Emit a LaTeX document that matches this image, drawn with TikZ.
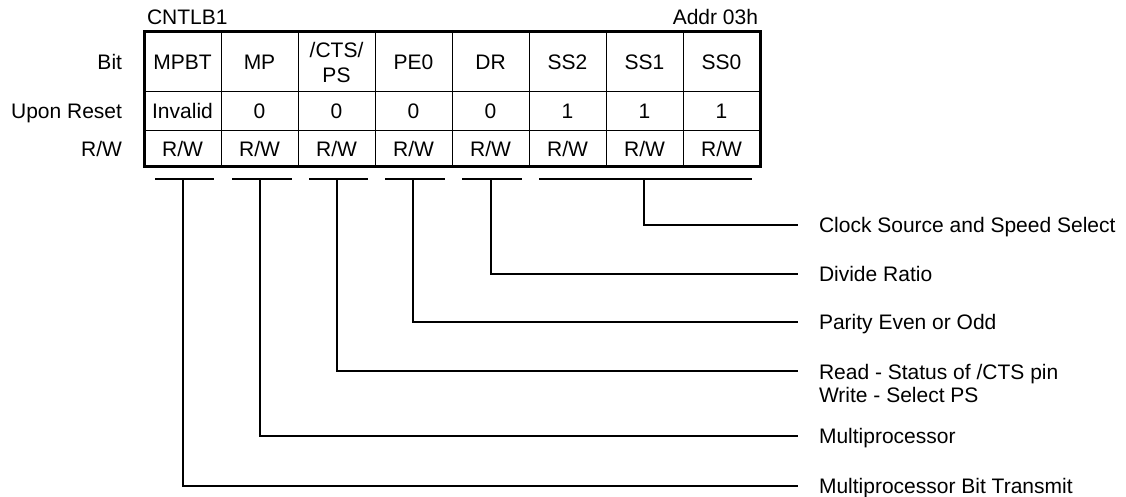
\documentclass[tikz,border=0pt]{standalone}
\usepackage{fontspec}
\setmainfont{Liberation Sans}
\begin{document}
\begin{tikzpicture}[x=1pt,y=-1pt,
  every node/.style={font=\fontsize{21}{25}\selectfont, inner sep=0pt, outer sep=0pt},
  cell/.style={draw, line width=1pt, minimum width=77pt, text height=15pt, text depth=0pt},
  bitcell/.style={cell, minimum height=60pt},
  rstcell/.style={cell, minimum height=39pt},
  rwcell/.style={cell, minimum height=36pt},
  rowlab/.style={anchor=east, text height=15pt, text depth=0pt},
  desc/.style={anchor=west, text height=15pt, text depth=0pt},
  wire/.style={line width=1.3pt},
  frame/.style={line width=3pt}]
\useasboundingbox (0,0) rectangle (1126,497);

% titles
\node[anchor=west, text height=15pt, text depth=0pt] (title) at (147,17) {CNTLB1};
\node[anchor=east, text height=15pt, text depth=0pt] (addr) at (758,17) {Addr 03h};

% row labels
\node[rowlab] (lbit) at (122,62) {Bit};
\node[rowlab] (lrst) at (122,111.5) {Upon Reset};
\node[rowlab] (lrw) at (122,149) {R/W};

% bit row
\node[bitcell] (b0) at (182.5,62) {MPBT};
\node[bitcell] (b1) at (259.5,62) {MP};
\node[draw, line width=1pt, minimum width=77pt, minimum height=60pt, align=center,
      font=\fontsize{21}{25}\selectfont] (b2) at (336.5,62) {/CTS/\\PS};
\node[bitcell] (b3) at (413.5,62) {PE0};
\node[bitcell] (b4) at (490.5,62) {DR};
\node[bitcell] (b5) at (567.5,62) {SS2};
\node[bitcell] (b6) at (644.5,62) {SS1};
\node[bitcell] (b7) at (721.5,62) {SS0};

% reset row
\node[rstcell] (r0) at (182.5,111.5) {Invalid};
\node[rstcell] (r1) at (259.5,111.5) {0};
\node[rstcell] (r2) at (336.5,111.5) {0};
\node[rstcell] (r3) at (413.5,111.5) {0};
\node[rstcell] (r4) at (490.5,111.5) {0};
\node[rstcell] (r5) at (567.5,111.5) {1};
\node[rstcell] (r6) at (644.5,111.5) {1};
\node[rstcell] (r7) at (721.5,111.5) {1};

% r/w row
\node[rwcell] (w0) at (182.5,149) {R/W};
\node[rwcell] (w1) at (259.5,149) {R/W};
\node[rwcell] (w2) at (336.5,149) {R/W};
\node[rwcell] (w3) at (413.5,149) {R/W};
\node[rwcell] (w4) at (490.5,149) {R/W};
\node[rwcell] (w5) at (567.5,149) {R/W};
\node[rwcell] (w6) at (644.5,149) {R/W};
\node[rwcell] (w7) at (721.5,149) {R/W};

% outer frame
\draw[frame] (b0.north west) rectangle (w7.south east);

% bracket bars
\coordinate (s0a) at (155,179); \coordinate (s0b) at (214,179);
\coordinate (s1a) at (232,179); \coordinate (s1b) at (292,179);
\coordinate (s2a) at (309,179); \coordinate (s2b) at (368,179);
\coordinate (s3a) at (385,179); \coordinate (s3b) at (445,179);
\coordinate (s4a) at (462,179); \coordinate (s4b) at (522,179);
\coordinate (s5a) at (539,179); \coordinate (s5b) at (752,179);
\foreach \k in {0,...,5}{\draw[wire] (s\k a) -- (s\k b);}

% tap points on bars
\coordinate (t0) at (183,179);
\coordinate (t1) at (260,179);
\coordinate (t2) at (337,179);
\coordinate (t3) at (413,179);
\coordinate (t4) at (491,179);
\coordinate (t5) at (644,179);

% line ends
\coordinate (e5) at (798,225);
\coordinate (e4) at (798,274);
\coordinate (e3) at (798,322);
\coordinate (e2) at (798,371);
\coordinate (e1) at (798,436);
\coordinate (e0) at (798,486);

% descriptions
\node[desc] (d5) at (819,225) {Clock Source and Speed Select};
\node[desc] (d4) at (819,274) {Divide Ratio};
\node[desc] (d3) at (819,322) {Parity Even or Odd};
\node[anchor=north west, align=left, font=\fontsize{21}{23}\selectfont] (d2) at (819,364)
  {Read - Status of /CTS pin\\Write - Select PS};
\node[desc] (d1) at (819,436) {Multiprocessor};
\node[desc] (d0) at (819,486) {Multiprocessor Bit Transmit};

% connectors
\foreach \k in {0,...,5}{\draw[wire] (t\k) |- (e\k);}
\end{tikzpicture}
\end{document}
